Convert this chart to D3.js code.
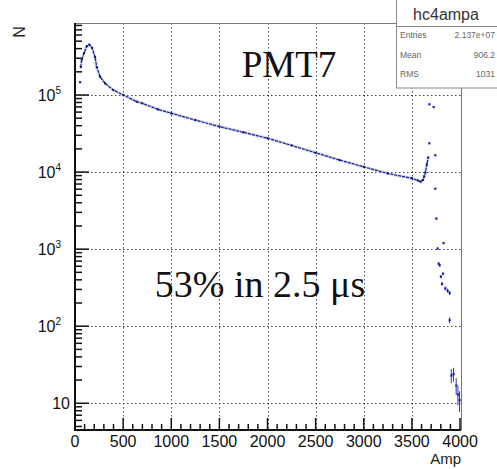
<!DOCTYPE html>
<html>
<head>
<meta charset="utf-8">
<script src="https://cdn.jsdelivr.net/npm/d3@7"></script>
<style>
  body { margin: 0; background: #fff; }
  svg { display: block; }
  .tick-label { font-family: "Liberation Sans", Arial, sans-serif; font-size: 16px; fill: #111; }
</style>
</head>
<body>
<div id="chart"></div>
<script>
// Amp spectrum, PMT7
const ampMain = [60, 70, 94, 122, 149, 177, 208, 226, 260, 312, 398, 502, 641, 700, 863, 1000, 1250, 1500, 1750, 2000, 2250, 2500, 2750, 3000, 3250, 3500, 3560, 3590, 3615, 3628, 3640, 3655, 3670];
const countMain = [2.3e5, 2.9e5, 3.5e5, 4.3e5, 4.5e5, 4.1e5, 3.1e5, 2.3e5, 1.73e5, 1.42e5, 1.16e5, 1.0e5, 8.2e4, 7.8e4, 6.5e4, 5.8e4, 4.73e4, 3.9e4, 3.28e4, 2.75e4, 2.22e4, 1.78e4, 1.43e4, 1.17e4, 9.6e3, 8.3e3, 7.8e3, 7.5e3, 7.9e3, 8.8e3, 9.9e3, 1.26e4, 1.55e4];

// sparse bins past the edge
const ampTail = [52, 3680, 3725, 3680, 3742, 3742, 3753, 3766, 3777, 3787, 3800, 3812, 3822, 3828, 3846, 3870, 3891, 3891, 3909, 3932, 3960, 3978, 3995];
const countTail = [1.47e5, 7.6e4, 7.0e4, 2.37e4, 1.66e4, 6.1e3, 2.5e3, 1.02e3, 650, 620, 440, 355, 480, 1.2e3, 310, 290, 270, 120, 23, 24, 17, 13, 11];

const xTicks = [0, 500, 1000, 1500, 2000, 2500, 3000, 3500, 4000];
const yTicks = [10, 100, 1000, 10000, 100000];
const statLabels = ["Entries", "Mean", "RMS"];
const statValues = ["2.137e+07", "906.2", "1031"];

const W = 497, H = 469;
const frame = { left: 75, right: 461, top: 23, bottom: 430 };

const svg = d3.select("#chart").append("svg")
  .attr("width", W)
  .attr("height", H);

svg.append("rect").attr("width", W).attr("height", H).attr("fill", "#fff");

const x = d3.scaleLinear().domain([0, 4010]).range([frame.left, frame.right]);
const y = d3.scaleLog().domain([4.5, 8.6e5]).range([frame.bottom, frame.top]);

// grid
const grid = svg.append("g").attr("stroke", "#444").attr("stroke-width", 1).attr("stroke-dasharray", "1.5,2.5");
grid.selectAll(".gx").data(xTicks.filter(d => d > 0 && d < 4000)).enter().append("line")
  .attr("x1", d => Math.round(x(d)) + 0.5).attr("x2", d => Math.round(x(d)) + 0.5)
  .attr("y1", frame.top).attr("y2", frame.bottom);
grid.selectAll(".gy").data(yTicks).enter().append("line")
  .attr("x1", frame.left).attr("x2", frame.right)
  .attr("y1", d => Math.round(y(d)) + 0.5).attr("y2", d => Math.round(y(d)) + 0.5);

// frame top/right
svg.append("path")
  .attr("d", `M${frame.left},${frame.top + 0.5}H${frame.right + 0.5}V${frame.bottom}`)
  .attr("fill", "none").attr("stroke", "#777").attr("stroke-width", 1);

// axes lines
svg.append("path")
  .attr("d", `M${frame.left},${frame.top}V${frame.bottom}H${frame.right}`)
  .attr("fill", "none").attr("stroke", "#111").attr("stroke-width", 2);

// x ticks
const xMinor = d3.range(0, 4010, 100);
svg.append("g").selectAll("line").data(xMinor).enter().append("line")
  .attr("x1", d => x(d)).attr("x2", d => x(d))
  .attr("y1", frame.bottom)
  .attr("y2", d => frame.bottom - (d % 500 === 0 ? 12 : 6))
  .attr("stroke", "#111").attr("stroke-width", 1.5);

svg.append("g").selectAll("text").data(xTicks).enter().append("text")
  .attr("class", "tick-label")
  .attr("x", d => x(d)).attr("y", 447)
  .attr("text-anchor", "middle")
  .text(d => d);

// y ticks
const yMinor = [];
for (let k = 0; k <= 5; k++) {
  for (let m = 1; m <= 9; m++) {
    const v = m * Math.pow(10, k);
    if (v >= 4.5 && v <= 8.6e5) yMinor.push(v);
  }
}
svg.append("g").selectAll("line").data(yMinor).enter().append("line")
  .attr("x1", frame.left).attr("x2", d => frame.left + (yTicks.includes(d) ? 14 : 7))
  .attr("y1", d => y(d)).attr("y2", d => y(d))
  .attr("stroke", "#111").attr("stroke-width", 1.5);

const yl = svg.append("g").selectAll("text").data(yTicks).enter().append("text")
  .attr("class", "tick-label")
  .attr("x", d => d === 10 ? 70 : 61)
  .attr("y", d => y(d) + 6)
  .attr("text-anchor", "end");
yl.text("10");
yl.filter(d => d > 10).append("tspan")
  .attr("font-size", 10).attr("dy", -7)
  .text(d => Math.round(Math.log10(d)));

// axis titles
svg.append("text")
  .attr("transform", "translate(25,32) rotate(-90)")
  .attr("text-anchor", "middle")
  .attr("font-family", "Liberation Sans, Arial, sans-serif")
  .attr("font-size", 16).attr("fill", "#222")
  .text("N");

svg.append("text")
  .attr("x", frame.right).attr("y", 464)
  .attr("text-anchor", "end")
  .attr("font-family", "Liberation Sans, Arial, sans-serif")
  .attr("font-size", 15).attr("fill", "#222")
  .text("Amp");

// main spectrum
const line = d3.line().x(d => x(d[0])).y(d => y(d[1]));
const mainPts = ampMain.map((a, i) => [a, countMain[i]]);

svg.append("path").datum(mainPts)
  .attr("d", line)
  .attr("fill", "none").attr("stroke", "#9aa6dc").attr("stroke-width", 3).attr("opacity", 0.45);
svg.append("path").datum(mainPts)
  .attr("d", line)
  .attr("fill", "none").attr("stroke", "#16217f").attr("stroke-width", 1.2)
  .attr("stroke-dasharray", "3,1");
svg.append("g").selectAll("rect").data(mainPts).enter().append("rect")
  .attr("x", d => x(d[0]) - 1).attr("y", d => y(d[1]) - 1)
  .attr("width", 2).attr("height", 2)
  .attr("fill", "#0d1670");

// sparse bins with error bars
const tailPts = ampTail.map((a, i) => [a, countTail[i]]);
const tail = svg.append("g");
tail.selectAll("line").data(tailPts).enter().append("line")
  .attr("x1", d => x(d[0])).attr("x2", d => x(d[0]))
  .attr("y1", d => y(Math.max(d[1] - Math.sqrt(d[1]), 4.6)))
  .attr("y2", d => y(d[1] + Math.sqrt(d[1])))
  .attr("stroke", "#2333d0").attr("stroke-width", 1);
tail.selectAll("rect").data(tailPts).enter().append("rect")
  .attr("x", d => x(d[0]) - 1).attr("y", d => y(d[1]) - 1)
  .attr("width", 2.2).attr("height", 2.2)
  .attr("fill", "#1a24b0");

// annotations
svg.append("text")
  .attr("x", 289).attr("y", 77)
  .attr("text-anchor", "middle")
  .attr("font-family", "Liberation Serif, Times New Roman, serif")
  .attr("font-size", 37).attr("fill", "#111")
  .text("PMT7");

svg.append("text")
  .attr("x", 260).attr("y", 297)
  .attr("text-anchor", "middle")
  .attr("font-family", "Liberation Serif, Times New Roman, serif")
  .attr("font-size", 38).attr("fill", "#111")
  .text("53% in 2.5 \u03bcs");

// stats box
const box = svg.append("g");
box.append("rect")
  .attr("x", 396.5).attr("y", -1).attr("width", 110).attr("height", 89)
  .attr("fill", "#fff").attr("stroke", "#888");
box.append("line")
  .attr("x1", 396.5).attr("x2", W).attr("y1", 26.5).attr("y2", 26.5)
  .attr("stroke", "#888");
box.append("text")
  .attr("x", 446).attr("y", 20)
  .attr("text-anchor", "middle")
  .attr("font-family", "Liberation Sans, Arial, sans-serif")
  .attr("font-size", 16).attr("fill", "#333")
  .text("hc4ampa");
box.selectAll(".sl").data(statLabels).enter().append("text")
  .attr("x", 400).attr("y", (d, i) => 38 + i * 19.5)
  .attr("font-family", "Liberation Sans, Arial, sans-serif")
  .attr("font-size", 8.5).attr("fill", "#666")
  .text(d => d);
box.selectAll(".sv").data(statValues).enter().append("text")
  .attr("x", 495).attr("y", (d, i) => 38 + i * 19.5)
  .attr("text-anchor", "end")
  .attr("font-family", "Liberation Sans, Arial, sans-serif")
  .attr("font-size", 8.5).attr("fill", "#666")
  .text(d => d);
</script>
</body>
</html>
